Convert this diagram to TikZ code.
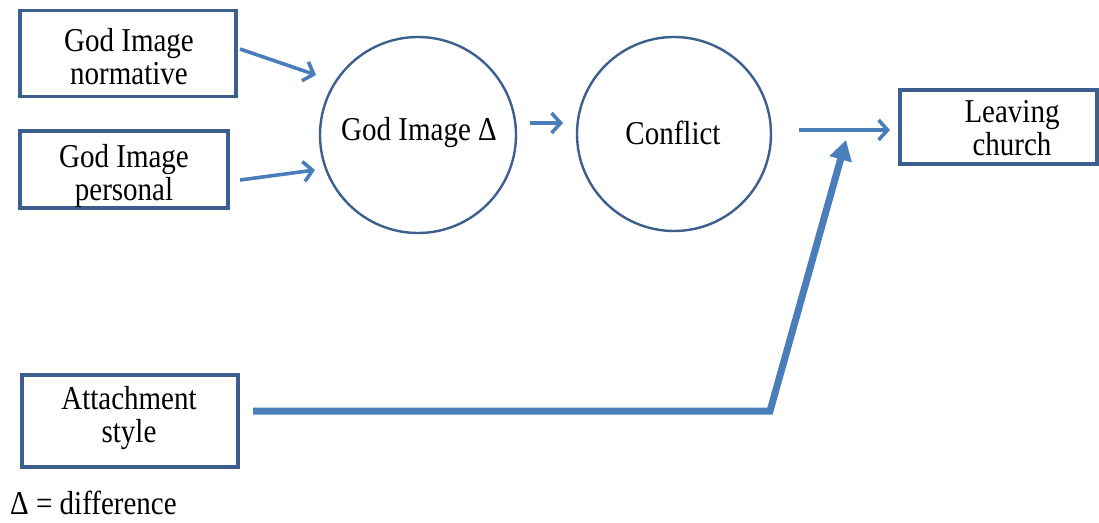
\documentclass[tikz,border=0pt]{standalone}
\usepackage{fontspec}
\setmainfont{Liberation Serif}
\newfontfamily\tnr{Liberation Serif}
\usetikzlibrary{arrows.meta}
\definecolor{boxblue}{HTML}{3C5F8E}
\definecolor{arrowblue}{HTML}{4A7EBB}
\tikzset{
  boxshape/.style={draw=boxblue, line width=3.2pt, rectangle, inner sep=0pt},
  circshape/.style={draw=boxblue, line width=2.4pt, circle, inner sep=0pt},
  lbl/.style={align=center, font=\tnr\fontsize{29}{33}\selectfont, inner sep=0pt},
  thinarrow/.style={draw=arrowblue, line width=3.6pt, -{Straight Barb[length=9pt,width=20pt,line width=3.6pt]}},
  thickarrow/.style={draw=arrowblue, line width=7pt, -{Triangle[length=20pt,width=22pt]}}
}
\newcommand{\tall}[1]{\scalebox{1}[1.15]{#1}}
\begin{document}
\begin{tikzpicture}[x=1pt,y=-1pt]
\useasboundingbox (0,0) rectangle (1099,522);
% boxes
\node[boxshape, minimum width=216pt, minimum height=86pt] (b1) at (128,53.5) {};
\node[lbl] (t1) at (129,57) {\tall{God Image}\\\tall{normative}};
\node[boxshape, minimum width=208pt, minimum height=77pt] (b2) at (124,169.5) {};
\node[lbl] (t2) at (124,176) {\tall{God Image}\\\tall{personal}};
\node[boxshape, minimum width=216pt, minimum height=92pt] (b3) at (130,421) {};
\node[lbl] (t3) at (129,418) {\tall{Attachment}\\\tall{style}};
\node[boxshape, minimum width=197pt, minimum height=74pt] (b4) at (998.5,127) {};
\node[lbl] (t4) at (1012,128) {\tall{Leaving}\\\tall{church}};
% circles
\node[circshape, minimum size=196pt] (c1) at (418,135) {};
\node[lbl] (tc1) at (419,133) {\tall{God Image Δ}};
\node[circshape, minimum size=194pt] (c2) at (674,134) {};
\node[lbl] (tc2) at (673,133) {\tall{Conflict}};
% legend
\node[lbl, anchor=base west] (leg) at (10,514) {\tall{Δ = difference}};
% arrow end points
\coordinate (a1s) at (240,49);
\coordinate (a1e) at (316,75);
\coordinate (a2s) at (240,180);
\coordinate (a2e) at (315,170);
\coordinate (a3s) at (530,123);
\coordinate (a3e) at (563,123);
\coordinate (a4s) at (799,130);
\coordinate (a4e) at (890,130);
\coordinate (a5s) at (253,411);
\coordinate (a5m) at (770,411);
\coordinate (a5e) at (846,140);
\draw[thinarrow] (a1s) -- (a1e);
\draw[thinarrow] (a2s) -- (a2e);
\draw[thinarrow] (a3s) -- (a3e);
\draw[thinarrow] (a4s) -- (a4e);
\draw[thickarrow] (a5s) -- (a5m) -- (a5e);
\end{tikzpicture}
\end{document}
